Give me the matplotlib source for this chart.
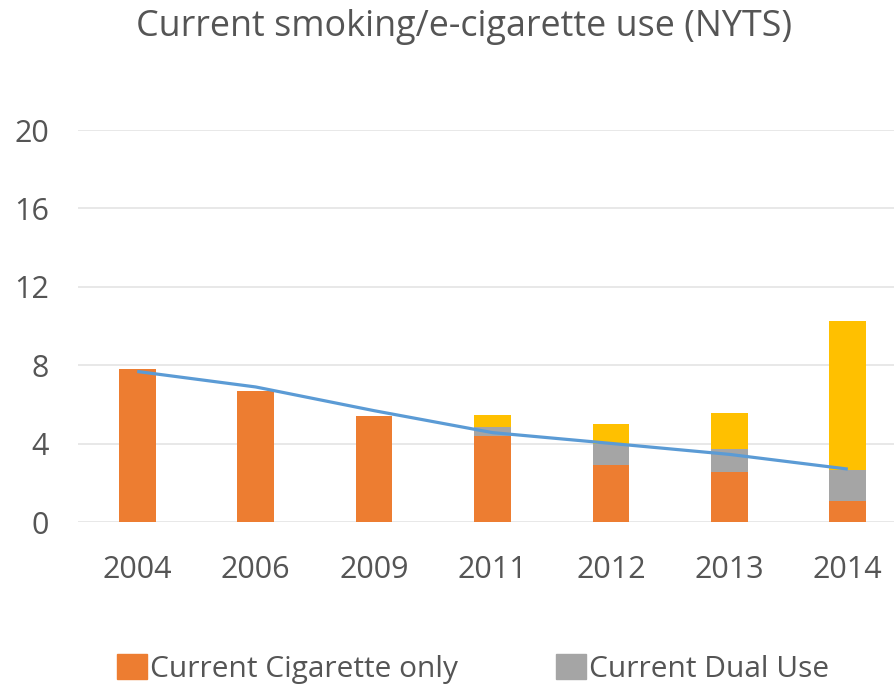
import matplotlib
matplotlib.use("Agg")
import matplotlib.pyplot as plt
from matplotlib.patches import Patch
import numpy as np

years = ["2004", "2006", "2009", "2011", "2012", "2013", "2014"]
cig_only = [7.8, 6.7, 5.42, 4.4, 2.92, 2.57, 1.06]
dual_use = [0.0, 0.0, 0.0, 0.47, 1.05, 1.13, 1.58]
ecig_only = [0.0, 0.0, 0.0, 0.57, 1.01, 1.88, 7.64]
trend = [7.68, 6.89, 5.68, 4.56, 4.01, 3.45, 2.7]
yticks = [0, 4, 8, 12, 16, 20]

plt.rcParams['font.family'] = ['Open Sans', 'DejaVu Sans']
TXT = '#555555'

fig = plt.figure(figsize=(8.95, 6.88), dpi=100)
ax = fig.add_axes([78/895, 166/688, 829/895, 392/688])
x = np.arange(len(years))
w = 0.31
c_orange = '#ED7D31'
c_gray = '#A5A5A5'
c_yellow = '#FFC000'
ax.bar(x, cig_only, w, color=c_orange, zorder=2)
ax.bar(x, dual_use, w, bottom=cig_only, color=c_gray, zorder=2)
bot2 = np.array(cig_only) + np.array(dual_use)
ax.bar(x, ecig_only, w, bottom=bot2, color=c_yellow, zorder=2)
ax.plot(x, trend, color='#5B9BD5', lw=2.3, zorder=3, solid_capstyle='butt')

ax.set_xlim(-0.5, len(years) - 0.5)
ax.set_ylim(0, 20)
ax.set_yticks(yticks)
ax.set_yticklabels([str(v) for v in yticks])
ax.set_xticks(x)
ax.set_xticklabels(years)
ax.yaxis.grid(True, color='#E6E6E6', lw=1.3, zorder=0)
ax.set_axisbelow(True)
for s in ax.spines.values():
    s.set_visible(False)
ax.tick_params(axis='both', length=0, labelsize=22, labelcolor=TXT)
ax.tick_params(axis='y', pad=21)
ax.tick_params(axis='x', pad=24)

fig.text(0.518, 1 - 27/688, "Current smoking/e-cigarette use (NYTS)",
         ha='center', va='center', fontsize=25.8, color=TXT)

handles = [Patch(color=c_orange, label='Current Cigarette only'),
           Patch(color=c_gray, label='Current Dual Use')]
fig.legend(handles=handles, loc='center', bbox_to_anchor=(473/895, 19/688),
           ncol=2, frameon=False, fontsize=21.5, labelcolor=TXT,
           handlelength=1.0, handleheight=0.9, handletextpad=0.1,
           columnspacing=3.3)

fig.savefig('out.png', dpi=100, facecolor='white')
